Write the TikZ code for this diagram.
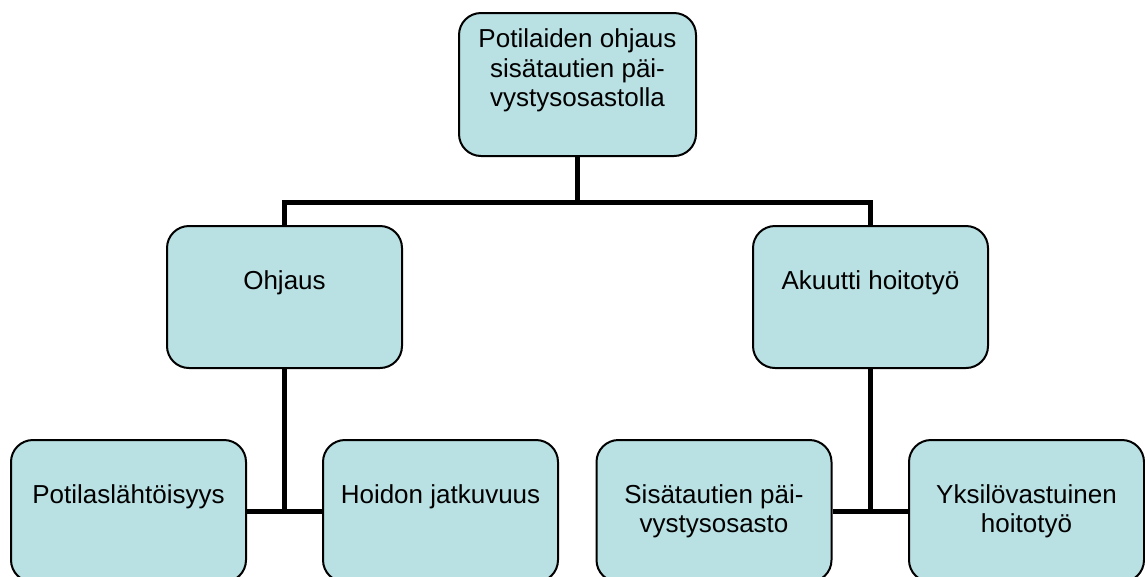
\documentclass[tikz,border=0pt]{standalone}
\usepackage{fontspec}
\setmainfont{Liberation Sans}
\definecolor{boxfill}{HTML}{B9E0E3}
\newcommand{\emptyline}{\\\rule[-3pt]{0pt}{3pt}}
\tikzset{
  box/.style={draw=black, line width=1.5pt, fill=boxfill, rounded corners=16.5pt,
    minimum width=176.25pt, minimum height=106.5pt, inner sep=0pt, align=center,
    font=\fontsize{19.5pt}{22.1pt}\selectfont},
  link/.style={line width=3.75pt}
}
\begin{document}
\begin{tikzpicture}[x=0.75pt,y=-0.75pt]
  \useasboundingbox (0,0) rectangle (1145,576);
  \draw
    (577.5,84.5) node[box, minimum width=177.75pt, minimum height=107.25pt] (top)
      {Potilaiden ohjaus\\sisätautien päi-\\vystysosastolla\emptyline}
    (284.5,297) node[box] (ohjaus){Ohjaus\emptyline}
    (870.5,297) node[box] (akuutti){Akuutti hoitotyö\emptyline}
    (128.5,511) node[box] (potilas){Potilaslähtöisyys\emptyline}
    (440.5,511) node[box] (hoidon){Hoidon jatkuvuus\emptyline}
    (714,511) node[box] (sisatautien){Sisätautien päi-\\vystysosasto}
    (1026.5,511) node[box] (yksilo){Yksilövastuinen\\hoitotyö};
  \coordinate (hub) at (577.5,202.5);
  \begin{scope}[link]
    \draw (top) to (hub);
    \draw (ohjaus.north) |- (hub) -| (akuutti.north);
    \draw (ohjaus) to (ohjaus |- potilas);
    \draw (potilas) to (hoidon);
    \draw (akuutti) to (akuutti |- sisatautien);
    \draw (sisatautien) to (yksilo);
  \end{scope}
\end{tikzpicture}
\end{document}
